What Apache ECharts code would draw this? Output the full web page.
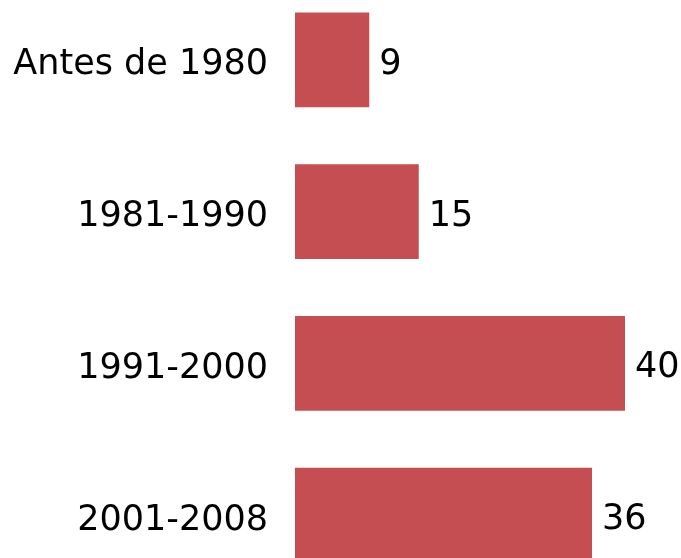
<!DOCTYPE html>
<html>
<head>
<meta charset="utf-8">
<script src="https://cdn.jsdelivr.net/npm/echarts@6/dist/echarts.min.js"></script>
<style>
  html, body { margin: 0; padding: 0; background: #fff; }
  #chart { width: 681px; height: 558px; }
</style>
</head>
<body>
<div id="chart"></div>
<script>
const categories = ['Antes de 1980', '1981-1990', '1991-2000', '2001-2008'];
const counts = [9, 15, 40, 36];

const chart = echarts.init(document.getElementById('chart'));

const option = {
    animation: false,
    textStyle: { fontFamily: 'DejaVu Sans' },
    grid: {
        left: 295,
        right: 56,
        top: -16,
        height: 607,
        containLabel: false,
        outerBoundsMode: 'none'
    },
    xAxis: {
        type: 'value',
        min: 0,
        max: 40,
        show: false
    },
    yAxis: {
        type: 'category',
        data: categories,
        inverse: true,
        axisLine: { show: false },
        axisTick: { show: false },
        splitLine: { show: false },
        axisLabel: {
            margin: 27,
            formatter: '{a|{value}}',
            rich: {
                a: {
                    fontSize: 35,
                    color: '#000',
                    fontFamily: 'DejaVu Sans',
                    padding: [11, 0, 0, 0],
                    backgroundColor: 'rgba(255,255,255,0)'
                }
            }
        }
    },
    series: [
        {
            type: 'bar',
            data: counts,
            barCategoryGap: '37.4%',
            itemStyle: { color: '#C44E52' },
            label: {
                show: true,
                position: 'right',
                distance: 10,
                offset: [0, 5],
                fontSize: 35,
                color: '#000',
                fontFamily: 'DejaVu Sans'
            }
        }
    ]
};

chart.setOption(option);
</script>
</body>
</html>
